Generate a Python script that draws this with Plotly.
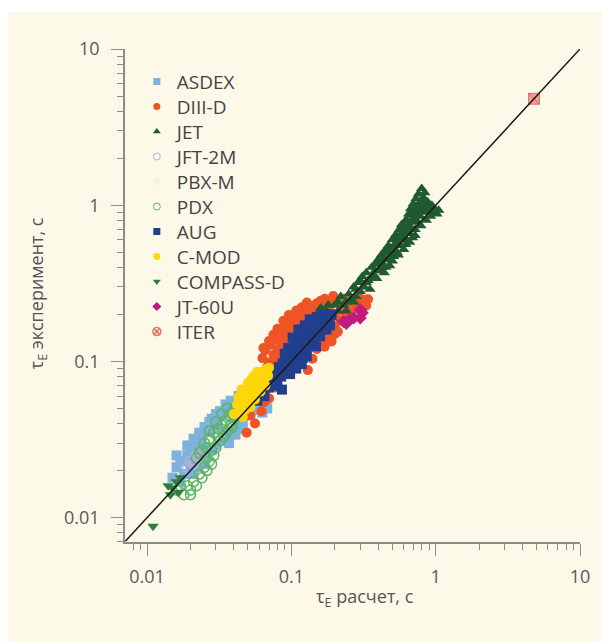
import plotly.graph_objects as go

# --- data: energy confinement time, calculated (x) vs. experimental (y), seconds ---
asdex_pts = [
    (0.015, 0.018), (0.016, 0.021), (0.017, 0.017), (0.018, 0.023), (0.018, 0.019),
    (0.019, 0.025), (0.020, 0.021), (0.020, 0.027), (0.021, 0.023), (0.022, 0.029),
    (0.022, 0.021), (0.023, 0.025), (0.024, 0.031), (0.024, 0.023), (0.025, 0.027),
    (0.026, 0.034), (0.026, 0.025), (0.027, 0.030), (0.028, 0.037), (0.028, 0.027),
    (0.029, 0.032), (0.030, 0.039), (0.030, 0.029), (0.031, 0.034), (0.032, 0.042),
    (0.032, 0.031), (0.033, 0.036), (0.034, 0.045), (0.034, 0.032), (0.035, 0.039),
    (0.036, 0.048), (0.036, 0.034), (0.037, 0.042), (0.038, 0.051), (0.039, 0.037),
    (0.040, 0.045), (0.041, 0.054), (0.042, 0.039), (0.044, 0.048), (0.045, 0.057),
    (0.046, 0.041), (0.048, 0.050), (0.050, 0.059), (0.052, 0.046), (0.055, 0.052),
    (0.058, 0.061), (0.060, 0.049), (0.065, 0.057), (0.025, 0.038), (0.028, 0.043),
    (0.032, 0.048), (0.035, 0.053), (0.038, 0.056), (0.021, 0.032), (0.017, 0.023),
    (0.016, 0.025), (0.019, 0.029), (0.023, 0.035), (0.027, 0.041), (0.030, 0.046),
    (0.043, 0.060), (0.050, 0.064), (0.055, 0.066), (0.062, 0.063), (0.050, 0.046),
    (0.046, 0.037), (0.041, 0.034), (0.037, 0.030), (0.025, 0.022), (0.021, 0.019),
    (0.063, 0.047), (0.068, 0.050),
]

diiid_pts = [
    (0.063, 0.105), (0.066, 0.118), (0.070, 0.098), (0.072, 0.128), (0.075, 0.110),
    (0.078, 0.138), (0.080, 0.118), (0.082, 0.150), (0.085, 0.128), (0.088, 0.158),
    (0.090, 0.138), (0.092, 0.170), (0.095, 0.148), (0.098, 0.178), (0.100, 0.158),
    (0.105, 0.185), (0.068, 0.092), (0.076, 0.098), (0.084, 0.108), (0.064, 0.122),
    (0.070, 0.135), (0.075, 0.148), (0.080, 0.162), (0.088, 0.182), (0.096, 0.198),
    (0.110, 0.195), (0.115, 0.168), (0.120, 0.205), (0.125, 0.182), (0.130, 0.215),
    (0.135, 0.192), (0.140, 0.226), (0.145, 0.198), (0.150, 0.236), (0.155, 0.208),
    (0.160, 0.245), (0.165, 0.212), (0.170, 0.252), (0.175, 0.222), (0.180, 0.238),
    (0.185, 0.205), (0.118, 0.222), (0.108, 0.212), (0.128, 0.238), (0.112, 0.178),
    (0.190, 0.232), (0.200, 0.198), (0.210, 0.242), (0.220, 0.212), (0.230, 0.252),
    (0.240, 0.218), (0.250, 0.242), (0.260, 0.206), (0.270, 0.252), (0.280, 0.228),
    (0.300, 0.242), (0.310, 0.218), (0.320, 0.248), (0.330, 0.228), (0.200, 0.168),
    (0.220, 0.182), (0.240, 0.192), (0.260, 0.196), (0.210, 0.155), (0.290, 0.262),
    (0.195, 0.262), (0.225, 0.232), (0.340, 0.250),
    (0.150, 0.120), (0.160, 0.132), (0.170, 0.124), (0.180, 0.142), (0.190, 0.134),
    (0.200, 0.150), (0.175, 0.152), (0.140, 0.104), (0.130, 0.088), (0.185, 0.162),
    (0.049, 0.035), (0.052, 0.045), (0.056, 0.040), (0.058, 0.062), (0.062, 0.048),
    (0.065, 0.055), (0.067, 0.066), (0.070, 0.058), (0.074, 0.075), (0.078, 0.068),
    (0.046, 0.050), (0.060, 0.071),
]

jet_pts = [
    (0.15, 0.20), (0.16, 0.22), (0.175, 0.21), (0.19, 0.19), (0.20, 0.23), (0.21, 0.21),
    (0.22, 0.26), (0.23, 0.23), (0.24, 0.21), (0.25, 0.27), (0.26, 0.25), (0.27, 0.30),
    (0.28, 0.26), (0.29, 0.32), (0.30, 0.28), (0.31, 0.35), (0.32, 0.30), (0.33, 0.37),
    (0.34, 0.33), (0.35, 0.29), (0.36, 0.40), (0.37, 0.36), (0.38, 0.42), (0.39, 0.34),
    (0.40, 0.45), (0.41, 0.39), (0.42, 0.48), (0.43, 0.42), (0.44, 0.37), (0.45, 0.52),
    (0.46, 0.45), (0.47, 0.55), (0.48, 0.41), (0.49, 0.50), (0.50, 0.60), (0.51, 0.47),
    (0.52, 0.56), (0.53, 0.65), (0.54, 0.50), (0.55, 0.62), (0.56, 0.70), (0.57, 0.55),
    (0.58, 0.75), (0.59, 0.62), (0.60, 0.52), (0.61, 0.68), (0.62, 0.80), (0.63, 0.60),
    (0.64, 0.72), (0.65, 0.88), (0.66, 0.66), (0.67, 0.95), (0.68, 0.78), (0.69, 0.62),
    (0.70, 1.02), (0.71, 0.85), (0.72, 0.70), (0.73, 1.10), (0.74, 0.92), (0.75, 0.78),
    (0.76, 1.18), (0.77, 0.98), (0.78, 0.85), (0.80, 1.28), (0.81, 1.05), (0.82, 0.90),
    (0.84, 1.20), (0.85, 0.95), (0.86, 0.80), (0.88, 1.05), (0.90, 0.92), (0.92, 0.85),
    (0.94, 1.00), (0.96, 0.90), (0.98, 0.95), (1.02, 0.88), (1.05, 0.93), (0.45, 0.40),
    (0.40, 0.38), (0.33, 0.32), (0.36, 0.34), (0.38, 0.38), (0.40, 0.42), (0.42, 0.40),
    (0.44, 0.46), (0.46, 0.50), (0.48, 0.47), (0.50, 0.53), (0.52, 0.62), (0.54, 0.58),
    (0.56, 0.60), (0.58, 0.66), (0.60, 0.73), (0.62, 0.66), (0.64, 0.79), (0.66, 0.74),
    (0.68, 0.87), (0.70, 0.80), (0.72, 0.95), (0.74, 0.86), (0.76, 0.92), (0.78, 1.05),
    (0.80, 0.96), (0.82, 1.12), (0.84, 1.02), (0.86, 0.92), (0.90, 1.00), (0.92, 0.95),
    (0.55, 0.48), (0.62, 0.56), (0.50, 0.44), (0.30, 0.33), (0.27, 0.24), (0.24, 0.24),
    (0.21, 0.24), (0.18, 0.23), (0.28, 0.29), (0.66, 0.58), (0.72, 0.64), (0.79, 0.74),
]

jft2m_pts = [(0.019, 0.021), (0.020, 0.023), (0.021, 0.022), (0.022, 0.025),
             (0.023, 0.024), (0.024, 0.026)]

pbxm_pts = [(0.028, 0.031), (0.032, 0.034), (0.036, 0.040)]

pdx_pts = [
    (0.016, 0.015), (0.017, 0.016), (0.018, 0.014), (0.019, 0.016), (0.020, 0.015),
    (0.021, 0.017), (0.022, 0.016), (0.023, 0.019), (0.024, 0.018), (0.025, 0.021),
    (0.026, 0.020), (0.027, 0.023), (0.028, 0.022), (0.029, 0.025), (0.020, 0.014),
    (0.022, 0.024), (0.024, 0.027), (0.025, 0.030), (0.026, 0.024), (0.027, 0.032),
    (0.028, 0.027), (0.029, 0.035), (0.030, 0.028), (0.031, 0.037), (0.032, 0.031),
    (0.033, 0.039), (0.034, 0.033), (0.035, 0.042), (0.036, 0.036), (0.037, 0.045),
    (0.038, 0.039), (0.039, 0.048), (0.040, 0.042), (0.041, 0.051), (0.042, 0.045),
    (0.044, 0.052), (0.030, 0.041), (0.033, 0.046), (0.027, 0.036), (0.036, 0.050),
    (0.031, 0.033), (0.035, 0.035), (0.039, 0.038), (0.026, 0.028), (0.023, 0.026),
]

aug_pts = [
    (0.075, 0.075), (0.078, 0.085), (0.080, 0.070), (0.082, 0.092), (0.085, 0.080),
    (0.087, 0.097), (0.090, 0.085), (0.092, 0.102), (0.095, 0.090), (0.097, 0.108),
    (0.100, 0.095), (0.100, 0.117), (0.103, 0.100), (0.105, 0.123), (0.107, 0.108),
    (0.110, 0.133), (0.110, 0.100), (0.113, 0.118), (0.115, 0.143), (0.117, 0.110),
    (0.120, 0.125), (0.120, 0.152), (0.123, 0.135), (0.125, 0.115), (0.127, 0.147),
    (0.130, 0.162), (0.130, 0.125), (0.133, 0.140), (0.135, 0.172), (0.137, 0.130),
    (0.140, 0.150), (0.140, 0.182), (0.143, 0.140), (0.145, 0.166), (0.148, 0.125),
    (0.150, 0.155), (0.150, 0.192), (0.155, 0.170), (0.158, 0.145), (0.160, 0.182),
    (0.163, 0.160), (0.165, 0.200), (0.170, 0.175), (0.175, 0.160), (0.180, 0.190),
    (0.185, 0.170), (0.190, 0.200), (0.095, 0.122), (0.105, 0.137), (0.090, 0.112),
    (0.115, 0.152), (0.120, 0.105), (0.086, 0.066), (0.058, 0.056), (0.065, 0.060),
    (0.070, 0.068), (0.102, 0.142), (0.112, 0.160), (0.124, 0.170), (0.134, 0.186),
    (0.098, 0.083), (0.108, 0.090), (0.118, 0.096), (0.128, 0.108),
]

cmod_pts = [
    (0.040, 0.046), (0.042, 0.053), (0.044, 0.047), (0.045, 0.058), (0.047, 0.052),
    (0.048, 0.063), (0.050, 0.057), (0.051, 0.067), (0.053, 0.060), (0.054, 0.071),
    (0.056, 0.064), (0.057, 0.076), (0.059, 0.068), (0.060, 0.082), (0.062, 0.072),
    (0.063, 0.086), (0.065, 0.077), (0.067, 0.089), (0.069, 0.081), (0.070, 0.091),
    (0.046, 0.044), (0.052, 0.051), (0.045, 0.066), (0.050, 0.073), (0.055, 0.081),
    (0.048, 0.049), (0.056, 0.057), (0.061, 0.064), (0.043, 0.059), (0.053, 0.077),
    (0.058, 0.086), (0.066, 0.070),
]

compass_pts = [(0.014, 0.016), (0.0145, 0.014), (0.015, 0.0155), (0.016, 0.017),
               (0.0165, 0.0145), (0.017, 0.018), (0.011, 0.0088)]

jt60u_pts = [(0.23, 0.180), (0.25, 0.183), (0.27, 0.190), (0.30, 0.190),
             (0.30, 0.214), (0.31, 0.205), (0.24, 0.175)]

iter_pts = [(4.8, 4.8)]

diag = [0.00707, 10.0]

# name, points, symbol, colour, hollow
series = [
    ("ASDEX", asdex_pts, "square", "#7eb1dc", False),
    ("DIII-D", diiid_pts, "circle", "#ef5427", False),
    ("JET", jet_pts, "triangle-up", "#1f5a30", False),
    ("JFT-2M", jft2m_pts, "circle-open", "#bcaed6", True),
    ("PBX-M", pbxm_pts, "circle", "#f7f2e2", False),
    ("PDX", pdx_pts, "circle-open", "#5cb56a", True),
    ("AUG", aug_pts, "square", "#213f8e", False),
    ("C-MOD", cmod_pts, "circle", "#ffd60a", False),
    ("COMPASS-D", compass_pts, "triangle-down", "#2f7d3f", False),
    ("JT-60U", jt60u_pts, "diamond", "#c41a7e", False),
    ("ITER", iter_pts, "square-x", "#ef7f70", False),
]

fig = go.Figure()

for name, pts, sym, col, hollow in series:
    xs = [p[0] for p in pts]
    ys = [p[1] for p in pts]
    if name == "ITER":
        marker = dict(symbol=sym, size=11, color="rgba(239,127,112,0.75)",
                      line=dict(width=1, color="rgba(200,60,60,0.6)"))
    else:
        marker = dict(symbol=sym, size=10, color=col,
                      line=dict(width=1.5 if hollow else 0, color=col))
    fig.add_trace(go.Scatter(x=xs, y=ys, mode="markers", showlegend=False,
                             hoverinfo="skip", marker=marker))

# y = x reference line
fig.add_trace(go.Scatter(x=diag, y=diag, mode="lines", showlegend=False,
                         line=dict(color="#1a1a1a", width=1.5)))

# one small legend per entry, stacked with a fixed row pitch
legend_font = dict(family="Open Sans", size=19, color="#444444")
row_top_px, row_pitch_px = 81.7, 25.0
plot_top_px, plot_h_px = 49.0, 493.0
legends = {}
for i, (name, pts, sym, col, hollow) in enumerate(series):
    key = "legend" if i == 0 else f"legend{i + 1}"
    row_y = 1.0 - (row_top_px + row_pitch_px * i - plot_top_px) / plot_h_px
    legends[key] = dict(x=0.026, y=row_y, xanchor="left", yanchor="middle",
                        bgcolor="rgba(0,0,0,0)", font=legend_font, itemwidth=30)
    if name == "ITER":
        lm = dict(symbol="circle-x-open", size=8, color="#e8705f", line=dict(width=1.5))
    else:
        lm = dict(symbol=sym, size=7, color=col,
                  line=dict(width=1 if hollow else 0, color=col))
    fig.add_trace(go.Scatter(x=[None], y=[None], mode="markers", name=name,
                             legend=key, marker=lm))

minor_vals = [m * 10.0 ** e for e in (-3, -2, -1, 0) for m in range(2, 10)]
minor_vals = [v for v in minor_vals if v >= 0.007]

axis_common = dict(
    type="log", showgrid=False, zeroline=False, showline=True,
    linecolor="#8c8c8c", linewidth=1.5, ticks="outside", ticklen=12, tickwidth=1.2,
    tickcolor="#8c8c8c", tickvals=[0.01, 0.1, 1, 10], ticktext=["0.01", "0.1", "1", "10"],
    tickfont=dict(family="Open Sans", size=18, color="#5a5a5a"),
    minor=dict(ticks="outside", ticklen=6, tickwidth=1.2, tickcolor="#8c8c8c",
               tickvals=minor_vals, showgrid=False),
)

fig.update_xaxes(range=[-2.153, 1.0], ticklabelstandoff=6, **axis_common)
fig.update_yaxes(range=[-2.156, 1.0], ticklabelstandoff=8, **axis_common)

cream = "#fdf9e9"
fig.update_layout(
    width=602, height=644,
    margin=dict(l=125, r=20, t=49, b=102),
    paper_bgcolor="white", plot_bgcolor="rgba(0,0,0,0)",
    showlegend=True,
    shapes=[dict(type="rect", xref="paper", yref="paper", layer="below",
                 x0=-0.256, x1=1.1, y0=-0.203, y1=1.075,
                 fillcolor=cream, line=dict(width=0))],
    annotations=[
        dict(text="τ<sub>E</sub> расчет, с", xref="paper", yref="paper",
             x=0.527, y=-0.1116, showarrow=False, xanchor="center", yanchor="middle",
             font=dict(family="Open Sans", size=18, color="#555555")),
        dict(text="τ<sub>E</sub> эксперимент, с", xref="paper", yref="paper",
             x=-0.1926, y=0.505, showarrow=False, textangle=-90,
             xanchor="center", yanchor="middle",
             font=dict(family="Open Sans", size=18, color="#555555")),
    ],
    **legends,
)

fig.write_html("out.html")
